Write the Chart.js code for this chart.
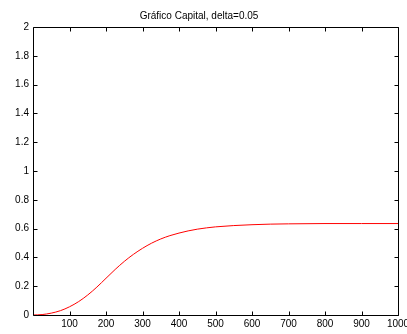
<!DOCTYPE html>
<html>
<head>
<meta charset="utf-8">
<script src="https://cdn.jsdelivr.net/npm/chart.js@4.4.0/dist/chart.umd.min.js"></script>
<style>
  html, body { margin: 0; padding: 0; background: #fff; }
  #wrap { width: 407px; height: 334px; }
</style>
</head>
<body>
<div id="wrap"><canvas id="graficaCapital" width="407" height="334"></canvas></div>
<script>
// valores
var periodos = [0, 25, 50, 75, 100, 125, 150, 175, 200, 225, 250, 275, 300, 325, 350, 375, 400,
                425, 450, 475, 500, 550, 600, 650, 700, 800, 900, 1000];
var capital = [0, 0.003, 0.013, 0.03, 0.057, 0.093, 0.139, 0.194, 0.255, 0.316, 0.372, 0.421, 0.463,
               0.499, 0.528, 0.551, 0.569, 0.584, 0.596, 0.605, 0.612, 0.621, 0.627, 0.631, 0.633,
               0.635, 0.635, 0.635];
var xTicks = [100, 200, 300, 400, 500, 600, 700, 800, 900, 1000];
var xTickLabels = ['100', '200', '300', '400', '500', '600', '700', '800', '900', '1000'];
var yTicks = [0, 0.2, 0.4, 0.6, 0.8, 1, 1.2, 1.4, 1.6, 1.8, 2];
var yTickLabels = ['0', '0.2', '0.4', '0.6', '0.8', '1', '1.2', '1.4', '1.6', '1.8', '2'];

var fuente = { family: 'Arial, "Liberation Sans", Helvetica, sans-serif', size: 10 };

// ejes estilo matlab: caja y marcas hacia dentro
var ejesMatlab = {
    id: 'ejesMatlab',
    afterDraw: function (chart) {
        var ctx = chart.ctx;
        var a = chart.chartArea;
        var sx = chart.scales.x, sy = chart.scales.y;
        var L = Math.round(a.left) + 0.5, R = Math.round(a.right) + 0.5;
        var T = Math.round(a.top) + 0.5, B = Math.round(a.bottom) + 0.5;
        var len = 4;
        ctx.save();
        ctx.strokeStyle = '#000';
        ctx.lineWidth = 1;
        ctx.beginPath();
        ctx.rect(L, T, R - L, B - T);
        xTicks.forEach(function (v) {
            var px = Math.round(sx.getPixelForValue(v)) + 0.5;
            ctx.moveTo(px, B); ctx.lineTo(px, B - len);
            ctx.moveTo(px, T); ctx.lineTo(px, T + len);
        });
        yTicks.forEach(function (v) {
            var py = Math.round(sy.getPixelForValue(v)) + 0.5;
            ctx.moveTo(L, py); ctx.lineTo(L + len, py);
            ctx.moveTo(R, py); ctx.lineTo(R - len, py);
        });
        ctx.stroke();
        ctx.restore();
    }
};

var ctx = document.getElementById('graficaCapital').getContext('2d');

var puntos = periodos.map(function (p, i) {
    return { x: p, y: capital[i] };
});

var myChart = new Chart(ctx, {
    type: 'line',
    data: {
        datasets: [{
            label: 'Capital',
            data: puntos,
            borderColor: 'rgb(255, 0, 0)',
            borderWidth: 1,
            pointRadius: 0,
            fill: false,
            cubicInterpolationMode: 'monotone'
        }]
    },
    options: {
        responsive: false,
        animation: false,
        layout: { padding: { left: 0, right: 9, top: 0, bottom: 0 } },
        plugins: {
            legend: { display: false },
            tooltip: { enabled: false },
            title: {
                display: true,
                text: 'Gráfico Capital, delta=0.05',
                color: '#000',
                font: { family: fuente.family, size: 10, weight: 'normal', lineHeight: 1.2 },
                padding: { top: 10, bottom: 5 }
            }
        },
        scales: {
            x: {
                type: 'linear',
                min: 0,
                max: 1000,
                afterBuildTicks: function (s) {
                    s.ticks = xTicks.map(function (v) { return { value: v }; });
                },
                afterFit: function (s) {
                    s.height = 19;
                    s.paddingLeft = 0;
                    s.paddingRight = 0;
                },
                grid: { display: false, drawTicks: false },
                border: { display: false },
                ticks: {
                    color: '#000',
                    font: fuente,
                    padding: 3,
                    maxRotation: 0,
                    autoSkip: false,
                    callback: function (value, index) {
                        return xTickLabels[index];
                    }
                }
            },
            y: {
                min: 0,
                max: 2,
                afterBuildTicks: function (s) {
                    s.ticks = yTicks.map(function (v) { return { value: v }; });
                },
                afterFit: function (s) {
                    s.width = 33;
                    s.paddingTop = 0;
                    s.paddingBottom = 0;
                },
                grid: { display: false, drawTicks: false },
                border: { display: false },
                ticks: {
                    color: '#000',
                    font: fuente,
                    padding: 4,
                    autoSkip: false,
                    callback: function (value, index) {
                        return yTickLabels[index];
                    }
                }
            }
        }
    },
    plugins: [ejesMatlab]
});
</script>
</body>
</html>
